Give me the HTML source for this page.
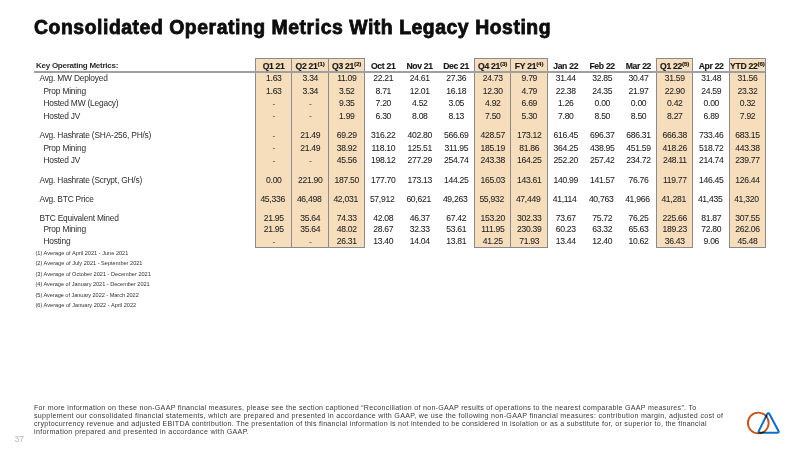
<!DOCTYPE html>
<html><head><meta charset="utf-8"><title>Consolidated Operating Metrics With Legacy Hosting</title>
<style>
*{margin:0;padding:0;box-sizing:border-box}
html,body{width:800px;height:450px;overflow:hidden;background:#fff}
body{position:relative;font-family:"Liberation Sans",Arial,sans-serif;color:#333}
.a{position:absolute;white-space:nowrap}
.t{position:absolute;left:34px;top:18px;font-size:19.4px;font-weight:bold;color:#0d0d0d;letter-spacing:0.541px;-webkit-text-stroke:0.8px #0d0d0d;line-height:1}
.box{position:absolute;background:#f6debd;border:1px solid #8a8a90}
.vl{position:absolute;width:1px;background:#8a8a90}
.hl{position:absolute;left:34px;width:731px;top:71px;height:2px;background:#a0a0a0}
.c{position:absolute;text-align:center;font-size:8.6px;letter-spacing:-0.3px;line-height:10px;height:10px;color:#222222;white-space:nowrap;-webkit-text-stroke:0.05px #222222}
.c.d{color:#555;-webkit-text-stroke:0}
.c.h{font-size:8.6px;letter-spacing:-0.3px;-webkit-text-stroke:0.15px #1a1a1a}
.h{font-weight:bold;color:#1a1a1a}
.h sup{font-size:6.2px;vertical-align:0;position:relative;top:-3.2px;letter-spacing:-0.1px}
.l{position:absolute;font-size:8.4px;letter-spacing:-0.2px;line-height:10px;color:#2e2e2e;white-space:nowrap;-webkit-text-stroke:0px #2e2e2e}
.l.h{font-size:8.0px}
.fn{position:absolute;left:35.5px;font-size:5.6px;line-height:7px;color:#333;white-space:nowrap}
.p{position:absolute;left:34px;top:404.0px;font-size:7.1px;line-height:8.0px;color:#383838;white-space:nowrap}
.pg{position:absolute;left:14.5px;top:434px;font-size:8.5px;color:#b5b5b5}
</style></head><body>

<div class="t">Consolidated Operating Metrics With Legacy Hosting</div>
<div class="box" style="left:255px;top:58px;width:110px;height:190px"></div>
<div class="vl" style="left:291px;top:58px;height:190px"></div>
<div class="vl" style="left:328px;top:58px;height:190px"></div>
<div class="box" style="left:474px;top:58px;width:74px;height:190px"></div>
<div class="vl" style="left:510px;top:58px;height:190px"></div>
<div class="box" style="left:656px;top:58px;width:37px;height:190px"></div>
<div class="box" style="left:729px;top:58px;width:37px;height:190px"></div>
<div class="hl"></div>
<div class="l h" style="left:36px;top:60.76px;letter-spacing:-0.25px">Key Operating Metrics:</div>
<div class="c h" style="left:255.4px;top:60.98px;width:36.5px">Q1 21</div>
<div class="c h" style="left:291.9px;top:60.98px;width:36.5px">Q2 21<sup>(1)</sup></div>
<div class="c h" style="left:328.4px;top:60.98px;width:36.5px">Q3 21<sup>(2)</sup></div>
<div class="c h" style="left:364.9px;top:60.98px;width:36.5px">Oct 21</div>
<div class="c h" style="left:401.4px;top:60.98px;width:36.5px">Nov 21</div>
<div class="c h" style="left:437.9px;top:60.98px;width:36.5px">Dec 21</div>
<div class="c h" style="left:474.4px;top:60.98px;width:36.5px">Q4 21<sup>(3)</sup></div>
<div class="c h" style="left:510.9px;top:60.98px;width:36.5px">FY 21<sup>(4)</sup></div>
<div class="c h" style="left:547.4px;top:60.98px;width:36.5px">Jan 22</div>
<div class="c h" style="left:583.9px;top:60.98px;width:36.5px">Feb 22</div>
<div class="c h" style="left:620.4px;top:60.98px;width:36px">Mar 22</div>
<div class="c h" style="left:656.4px;top:60.98px;width:36.5px">Q1 22<sup>(5)</sup></div>
<div class="c h" style="left:692.9px;top:60.98px;width:36.5px">Apr 22</div>
<div class="c h" style="left:729.4px;top:60.98px;width:36px">YTD 22<sup>(6)</sup></div>
<div class="l" style="left:39.4px;top:73.20px">Avg. MW Deployed</div>
<div class="c" style="left:255.6px;top:73.08px;width:36.5px">1.63</div>
<div class="c" style="left:292.1px;top:73.08px;width:36.5px">3.34</div>
<div class="c" style="left:328.6px;top:73.08px;width:36.5px">11.09</div>
<div class="c" style="left:365.1px;top:73.08px;width:36.5px">22.21</div>
<div class="c" style="left:401.6px;top:73.08px;width:36.5px">24.61</div>
<div class="c" style="left:438.1px;top:73.08px;width:36.5px">27.36</div>
<div class="c" style="left:474.6px;top:73.08px;width:36.5px">24.73</div>
<div class="c" style="left:511.1px;top:73.08px;width:36.5px">9.79</div>
<div class="c" style="left:547.6px;top:73.08px;width:36.5px">31.44</div>
<div class="c" style="left:584.1px;top:73.08px;width:36.5px">32.85</div>
<div class="c" style="left:620.6px;top:73.08px;width:36px">30.47</div>
<div class="c" style="left:656.6px;top:73.08px;width:36.5px">31.59</div>
<div class="c" style="left:693.1px;top:73.08px;width:36.5px">31.48</div>
<div class="c" style="left:729.6px;top:73.08px;width:36px">31.56</div>
<div class="l" style="left:43.4px;top:85.70px">Prop Mining</div>
<div class="c" style="left:255.6px;top:85.58px;width:36.5px">1.63</div>
<div class="c" style="left:292.1px;top:85.58px;width:36.5px">3.34</div>
<div class="c" style="left:328.6px;top:85.58px;width:36.5px">3.52</div>
<div class="c" style="left:365.1px;top:85.58px;width:36.5px">8.71</div>
<div class="c" style="left:401.6px;top:85.58px;width:36.5px">12.01</div>
<div class="c" style="left:438.1px;top:85.58px;width:36.5px">16.18</div>
<div class="c" style="left:474.6px;top:85.58px;width:36.5px">12.30</div>
<div class="c" style="left:511.1px;top:85.58px;width:36.5px">4.79</div>
<div class="c" style="left:547.6px;top:85.58px;width:36.5px">22.38</div>
<div class="c" style="left:584.1px;top:85.58px;width:36.5px">24.35</div>
<div class="c" style="left:620.6px;top:85.58px;width:36px">21.97</div>
<div class="c" style="left:656.6px;top:85.58px;width:36.5px">22.90</div>
<div class="c" style="left:693.1px;top:85.58px;width:36.5px">24.59</div>
<div class="c" style="left:729.6px;top:85.58px;width:36px">23.32</div>
<div class="l" style="left:43.4px;top:98.30px">Hosted MW (Legacy)</div>
<div class="c d" style="left:255.6px;top:98.88px;width:36.5px">-</div>
<div class="c d" style="left:292.1px;top:98.88px;width:36.5px">-</div>
<div class="c" style="left:328.6px;top:98.18px;width:36.5px">9.35</div>
<div class="c" style="left:365.1px;top:98.18px;width:36.5px">7.20</div>
<div class="c" style="left:401.6px;top:98.18px;width:36.5px">4.52</div>
<div class="c" style="left:438.1px;top:98.18px;width:36.5px">3.05</div>
<div class="c" style="left:474.6px;top:98.18px;width:36.5px">4.92</div>
<div class="c" style="left:511.1px;top:98.18px;width:36.5px">6.69</div>
<div class="c" style="left:547.6px;top:98.18px;width:36.5px">1.26</div>
<div class="c" style="left:584.1px;top:98.18px;width:36.5px">0.00</div>
<div class="c" style="left:620.6px;top:98.18px;width:36px">0.00</div>
<div class="c" style="left:656.6px;top:98.18px;width:36.5px">0.42</div>
<div class="c" style="left:693.1px;top:98.18px;width:36.5px">0.00</div>
<div class="c" style="left:729.6px;top:98.18px;width:36px">0.32</div>
<div class="l" style="left:43.4px;top:110.70px">Hosted JV</div>
<div class="c d" style="left:255.6px;top:111.28px;width:36.5px">-</div>
<div class="c d" style="left:292.1px;top:111.28px;width:36.5px">-</div>
<div class="c" style="left:328.6px;top:110.58px;width:36.5px">1.99</div>
<div class="c" style="left:365.1px;top:110.58px;width:36.5px">6.30</div>
<div class="c" style="left:401.6px;top:110.58px;width:36.5px">8.08</div>
<div class="c" style="left:438.1px;top:110.58px;width:36.5px">8.13</div>
<div class="c" style="left:474.6px;top:110.58px;width:36.5px">7.50</div>
<div class="c" style="left:511.1px;top:110.58px;width:36.5px">5.30</div>
<div class="c" style="left:547.6px;top:110.58px;width:36.5px">7.80</div>
<div class="c" style="left:584.1px;top:110.58px;width:36.5px">8.50</div>
<div class="c" style="left:620.6px;top:110.58px;width:36px">8.50</div>
<div class="c" style="left:656.6px;top:110.58px;width:36.5px">8.27</div>
<div class="c" style="left:693.1px;top:110.58px;width:36.5px">6.89</div>
<div class="c" style="left:729.6px;top:110.58px;width:36px">7.92</div>
<div class="l" style="left:39.4px;top:130.40px">Avg. Hashrate (SHA-256, PH/s)</div>
<div class="c d" style="left:255.6px;top:130.98px;width:36.5px">-</div>
<div class="c" style="left:292.1px;top:130.28px;width:36.5px">21.49</div>
<div class="c" style="left:328.6px;top:130.28px;width:36.5px">69.29</div>
<div class="c" style="left:365.1px;top:130.28px;width:36.5px">316.22</div>
<div class="c" style="left:401.6px;top:130.28px;width:36.5px">402.80</div>
<div class="c" style="left:438.1px;top:130.28px;width:36.5px">566.69</div>
<div class="c" style="left:474.6px;top:130.28px;width:36.5px">428.57</div>
<div class="c" style="left:511.1px;top:130.28px;width:36.5px">173.12</div>
<div class="c" style="left:547.6px;top:130.28px;width:36.5px">616.45</div>
<div class="c" style="left:584.1px;top:130.28px;width:36.5px">696.37</div>
<div class="c" style="left:620.6px;top:130.28px;width:36px">686.31</div>
<div class="c" style="left:656.6px;top:130.28px;width:36.5px">666.38</div>
<div class="c" style="left:693.1px;top:130.28px;width:36.5px">733.46</div>
<div class="c" style="left:729.6px;top:130.28px;width:36px">683.15</div>
<div class="l" style="left:43.4px;top:142.90px">Prop Mining</div>
<div class="c d" style="left:255.6px;top:143.48px;width:36.5px">-</div>
<div class="c" style="left:292.1px;top:142.78px;width:36.5px">21.49</div>
<div class="c" style="left:328.6px;top:142.78px;width:36.5px">38.92</div>
<div class="c" style="left:365.1px;top:142.78px;width:36.5px">118.10</div>
<div class="c" style="left:401.6px;top:142.78px;width:36.5px">125.51</div>
<div class="c" style="left:438.1px;top:142.78px;width:36.5px">311.95</div>
<div class="c" style="left:474.6px;top:142.78px;width:36.5px">185.19</div>
<div class="c" style="left:511.1px;top:142.78px;width:36.5px">81.86</div>
<div class="c" style="left:547.6px;top:142.78px;width:36.5px">364.25</div>
<div class="c" style="left:584.1px;top:142.78px;width:36.5px">438.95</div>
<div class="c" style="left:620.6px;top:142.78px;width:36px">451.59</div>
<div class="c" style="left:656.6px;top:142.78px;width:36.5px">418.26</div>
<div class="c" style="left:693.1px;top:142.78px;width:36.5px">518.72</div>
<div class="c" style="left:729.6px;top:142.78px;width:36px">443.38</div>
<div class="l" style="left:43.4px;top:155.40px">Hosted JV</div>
<div class="c d" style="left:255.6px;top:155.98px;width:36.5px">-</div>
<div class="c d" style="left:292.1px;top:155.98px;width:36.5px">-</div>
<div class="c" style="left:328.6px;top:155.28px;width:36.5px">45.56</div>
<div class="c" style="left:365.1px;top:155.28px;width:36.5px">198.12</div>
<div class="c" style="left:401.6px;top:155.28px;width:36.5px">277.29</div>
<div class="c" style="left:438.1px;top:155.28px;width:36.5px">254.74</div>
<div class="c" style="left:474.6px;top:155.28px;width:36.5px">243.38</div>
<div class="c" style="left:511.1px;top:155.28px;width:36.5px">164.25</div>
<div class="c" style="left:547.6px;top:155.28px;width:36.5px">252.20</div>
<div class="c" style="left:584.1px;top:155.28px;width:36.5px">257.42</div>
<div class="c" style="left:620.6px;top:155.28px;width:36px">234.72</div>
<div class="c" style="left:656.6px;top:155.28px;width:36.5px">248.11</div>
<div class="c" style="left:693.1px;top:155.28px;width:36.5px">214.74</div>
<div class="c" style="left:729.6px;top:155.28px;width:36px">239.77</div>
<div class="l" style="left:39.4px;top:174.70px">Avg. Hashrate (Scrypt, GH/s)</div>
<div class="c" style="left:255.6px;top:174.58px;width:36.5px">0.00</div>
<div class="c" style="left:292.1px;top:174.58px;width:36.5px">221.90</div>
<div class="c" style="left:328.6px;top:174.58px;width:36.5px">187.50</div>
<div class="c" style="left:365.1px;top:174.58px;width:36.5px">177.70</div>
<div class="c" style="left:401.6px;top:174.58px;width:36.5px">173.13</div>
<div class="c" style="left:438.1px;top:174.58px;width:36.5px">144.25</div>
<div class="c" style="left:474.6px;top:174.58px;width:36.5px">165.03</div>
<div class="c" style="left:511.1px;top:174.58px;width:36.5px">143.61</div>
<div class="c" style="left:547.6px;top:174.58px;width:36.5px">140.99</div>
<div class="c" style="left:584.1px;top:174.58px;width:36.5px">141.57</div>
<div class="c" style="left:620.6px;top:174.58px;width:36px">76.76</div>
<div class="c" style="left:656.6px;top:174.58px;width:36.5px">119.77</div>
<div class="c" style="left:693.1px;top:174.58px;width:36.5px">146.45</div>
<div class="c" style="left:729.6px;top:174.58px;width:36px">126.44</div>
<div class="l" style="left:39.4px;top:193.90px">Avg. BTC Price</div>
<div class="c" style="left:254.4px;top:193.78px;width:36.5px">45,336</div>
<div class="c" style="left:290.9px;top:193.78px;width:36.5px">46,498</div>
<div class="c" style="left:327.4px;top:193.78px;width:36.5px">42,031</div>
<div class="c" style="left:363.9px;top:193.78px;width:36.5px">57,912</div>
<div class="c" style="left:400.4px;top:193.78px;width:36.5px">60,621</div>
<div class="c" style="left:436.9px;top:193.78px;width:36.5px">49,263</div>
<div class="c" style="left:473.4px;top:193.78px;width:36.5px">55,932</div>
<div class="c" style="left:509.9px;top:193.78px;width:36.5px">47,449</div>
<div class="c" style="left:546.4px;top:193.78px;width:36.5px">41,114</div>
<div class="c" style="left:582.9px;top:193.78px;width:36.5px">40,763</div>
<div class="c" style="left:619.4px;top:193.78px;width:36px">41,966</div>
<div class="c" style="left:655.4px;top:193.78px;width:36.5px">41,281</div>
<div class="c" style="left:691.9px;top:193.78px;width:36.5px">41,435</div>
<div class="c" style="left:728.4px;top:193.78px;width:36px">41,320</div>
<div class="l" style="left:39.4px;top:213.20px">BTC Equivalent Mined</div>
<div class="c" style="left:255.6px;top:213.08px;width:36.5px">21.95</div>
<div class="c" style="left:292.1px;top:213.08px;width:36.5px">35.64</div>
<div class="c" style="left:328.6px;top:213.08px;width:36.5px">74.33</div>
<div class="c" style="left:365.1px;top:213.08px;width:36.5px">42.08</div>
<div class="c" style="left:401.6px;top:213.08px;width:36.5px">46.37</div>
<div class="c" style="left:438.1px;top:213.08px;width:36.5px">67.42</div>
<div class="c" style="left:474.6px;top:213.08px;width:36.5px">153.20</div>
<div class="c" style="left:511.1px;top:213.08px;width:36.5px">302.33</div>
<div class="c" style="left:547.6px;top:213.08px;width:36.5px">73.67</div>
<div class="c" style="left:584.1px;top:213.08px;width:36.5px">75.72</div>
<div class="c" style="left:620.6px;top:213.08px;width:36px">76.25</div>
<div class="c" style="left:656.6px;top:213.08px;width:36.5px">225.66</div>
<div class="c" style="left:693.1px;top:213.08px;width:36.5px">81.87</div>
<div class="c" style="left:729.6px;top:213.08px;width:36px">307.55</div>
<div class="l" style="left:43.4px;top:223.70px">Prop Mining</div>
<div class="c" style="left:255.6px;top:223.58px;width:36.5px">21.95</div>
<div class="c" style="left:292.1px;top:223.58px;width:36.5px">35.64</div>
<div class="c" style="left:328.6px;top:223.58px;width:36.5px">48.02</div>
<div class="c" style="left:365.1px;top:223.58px;width:36.5px">28.67</div>
<div class="c" style="left:401.6px;top:223.58px;width:36.5px">32.33</div>
<div class="c" style="left:438.1px;top:223.58px;width:36.5px">53.61</div>
<div class="c" style="left:474.6px;top:223.58px;width:36.5px">111.95</div>
<div class="c" style="left:511.1px;top:223.58px;width:36.5px">230.39</div>
<div class="c" style="left:547.6px;top:223.58px;width:36.5px">60.23</div>
<div class="c" style="left:584.1px;top:223.58px;width:36.5px">63.32</div>
<div class="c" style="left:620.6px;top:223.58px;width:36px">65.63</div>
<div class="c" style="left:656.6px;top:223.58px;width:36.5px">189.23</div>
<div class="c" style="left:693.1px;top:223.58px;width:36.5px">72.80</div>
<div class="c" style="left:729.6px;top:223.58px;width:36px">262.06</div>
<div class="l" style="left:43.4px;top:236.10px">Hosting</div>
<div class="c d" style="left:255.6px;top:236.68px;width:36.5px">-</div>
<div class="c d" style="left:292.1px;top:236.68px;width:36.5px">-</div>
<div class="c" style="left:328.6px;top:235.98px;width:36.5px">26.31</div>
<div class="c" style="left:365.1px;top:235.98px;width:36.5px">13.40</div>
<div class="c" style="left:401.6px;top:235.98px;width:36.5px">14.04</div>
<div class="c" style="left:438.1px;top:235.98px;width:36.5px">13.81</div>
<div class="c" style="left:474.6px;top:235.98px;width:36.5px">41.25</div>
<div class="c" style="left:511.1px;top:235.98px;width:36.5px">71.93</div>
<div class="c" style="left:547.6px;top:235.98px;width:36.5px">13.44</div>
<div class="c" style="left:584.1px;top:235.98px;width:36.5px">12.40</div>
<div class="c" style="left:620.6px;top:235.98px;width:36px">10.62</div>
<div class="c" style="left:656.6px;top:235.98px;width:36.5px">36.43</div>
<div class="c" style="left:693.1px;top:235.98px;width:36.5px">9.06</div>
<div class="c" style="left:729.6px;top:235.98px;width:36px">45.48</div>
<div class="fn" style="top:249.50px;letter-spacing:0.008px">(1) Average of April 2021 - June 2021</div>
<div class="fn" style="top:260.00px;letter-spacing:0.003px">(2) Average of July 2021 - September 2021</div>
<div class="fn" style="top:270.50px;letter-spacing:0.002px">(3) Average of October 2021 - December 2021</div>
<div class="fn" style="top:281.00px;letter-spacing:-0.026px">(4) Average of January 2021 - December 2021</div>
<div class="fn" style="top:291.50px;letter-spacing:-0.044px">(5) Average of January 2022 - March 2022</div>
<div class="fn" style="top:302.00px;letter-spacing:0.008px">(6) Average of January 2022 - April 2022</div>
<div class="p"><span style="letter-spacing:0.283px">For more information on these non-GAAP financial measures, please see the section captioned “Reconciliation of non-GAAP results of operations to the nearest comparable GAAP measures”. To</span><br><span style="letter-spacing:0.297px">supplement our consolidated financial statements, which are prepared and presented in accordance with GAAP, we use the following non-GAAP financial measures: contribution margin, adjusted cost of</span><br><span style="letter-spacing:0.275px">cryptocurrency revenue and adjusted EBITDA contribution. The presentation of this financial information is not intended to be considered in isolation or as a substitute for, or superior to, the financial</span><br><span style="letter-spacing:0.319px">information prepared and presented in accordance with GAAP.</span></div>
<div class="pg">37</div>
<svg class="a" style="left:740px;top:404px" width="50" height="40" viewBox="740 404 50 40"><circle cx="758.3" cy="423" r="10.4" fill="none" stroke="#c8541a" stroke-width="1.9"/><path d="M769.43 414.02 L778.37 430.68 Q779.50 432.80 777.10 432.80 L760.30 432.80 Q757.90 432.80 758.97 430.65 L767.23 414.05 Q768.30 411.90 769.43 414.02 Z" fill="none" stroke="#0b6fcf" stroke-width="2.05" stroke-linejoin="round" style="mix-blend-mode:multiply"/></svg>
</body></html>
